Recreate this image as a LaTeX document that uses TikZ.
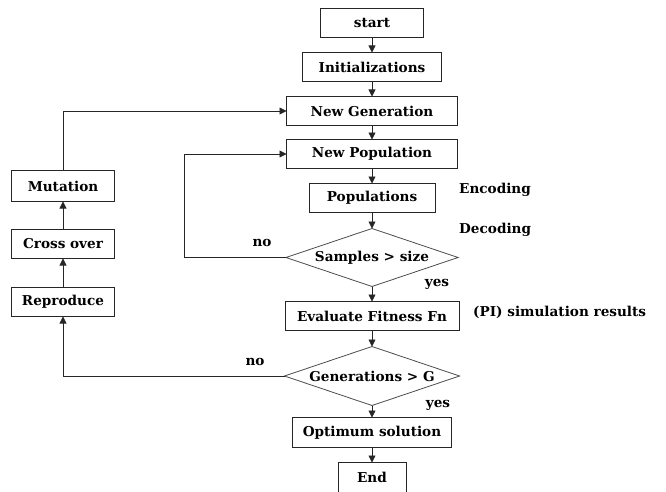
\documentclass[tikz,border=0pt]{standalone}
\usepackage{fontspec}
\setmainfont{DejaVu Serif}
\usetikzlibrary{positioning,arrows.meta,shapes.geometric}

\begin{document}
\begin{tikzpicture}[node distance=15pt and 20pt]
\tikzset{
    boxStyle/.style={rectangle, draw=black!85, line width=0.9pt, outer sep=0pt, minimum height=29pt, inner sep=2pt, align=center, font=\fontsize{13.6}{15}\selectfont\bfseries},
    decisionStyle/.style={diamond, draw=black!70, line width=0.8pt, outer sep=0pt, inner sep=0pt, aspect=2.95, minimum width=172pt, minimum height=58pt, align=center, font=\fontsize{13.6}{15}\selectfont\bfseries},
    labelStyle/.style={inner sep=0pt, font=\fontsize{13.6}{15}\selectfont\bfseries},
    flowArrow/.style={-{Triangle[width=7pt,length=7pt]}, line width=0.8pt, black!85}
}

\useasboundingbox (0,0) rectangle (666pt,-492pt);

% main column
\node[boxStyle, minimum width=103pt] (start) at (372pt,-23pt) {start};
\node[boxStyle, minimum width=139pt, below=of start] (init) {Initializations};
\node[boxStyle, minimum width=171pt, below=of init] (newGen) {New Generation};
\node[boxStyle, minimum width=171pt, below=14pt of newGen] (newPop) {New Population};
\node[boxStyle, minimum width=126pt, below=15pt of newPop] (pops) {Populations};
\node[decisionStyle, below=16pt of pops] (samples) {Samples \textgreater{} size};
\node[boxStyle, minimum width=174pt, below=of samples] (eval) {Evaluate Fitness Fn};
\node[decisionStyle, minimum width=175pt, minimum height=59pt, below=16pt of eval] (gens) {Generations \textgreater{} G};
\node[boxStyle, minimum width=159pt, minimum height=30pt, below=12pt of gens] (optimum) {Optimum solution};
\node[boxStyle, minimum width=68pt, minimum height=30pt, below=of optimum] (finish) {End};

% left column
\node[boxStyle, minimum width=103pt, minimum height=31pt] (mutation) at (63pt,-186pt) {Mutation};
\node[boxStyle, minimum width=103pt, below=28pt of mutation] (crossOver) {Cross over};
\node[boxStyle, minimum width=103pt, below=29pt of crossOver] (reproduce) {Reproduce};

% side notes
\node[labelStyle, anchor=west] (encoding) at (459pt,-190pt) {Encoding};
\node[labelStyle, anchor=west] (decoding) at (459pt,-230pt) {Decoding};
\node[labelStyle, anchor=west] (simResults) at (473pt,-312pt) {(PI) simulation results};
\node[labelStyle] (noSamples) at (262pt,-243pt) {no};
\node[labelStyle] (yesSamples) at (437pt,-284pt) {yes};
\node[labelStyle] (noGens) at (255pt,-362pt) {no};
\node[labelStyle] (yesGens) at (438pt,-405pt) {yes};

\coordinate (popLoop) at (184pt,0pt);

\draw[flowArrow] (start) -- (init);
\draw[flowArrow] (init) -- (newGen);
\draw[flowArrow] (newGen) -- (newPop);
\draw[flowArrow] (newPop) -- (pops);
\draw[flowArrow] (pops) -- (samples);
\draw[flowArrow] (samples) -- (eval);
\draw[flowArrow] (eval) -- (gens);
\draw[flowArrow] (gens) -- (optimum);
\draw[flowArrow] (optimum) -- (finish);

\draw[flowArrow] (samples.west) -- (samples.west -| popLoop) |- (newPop.west);
\draw[flowArrow] (gens.west) -| (reproduce.south);
\draw[flowArrow] (reproduce) -- (crossOver);
\draw[flowArrow] (crossOver) -- (mutation);
\draw[flowArrow] (mutation.north) |- (newGen.west);

\end{tikzpicture}
\end{document}
